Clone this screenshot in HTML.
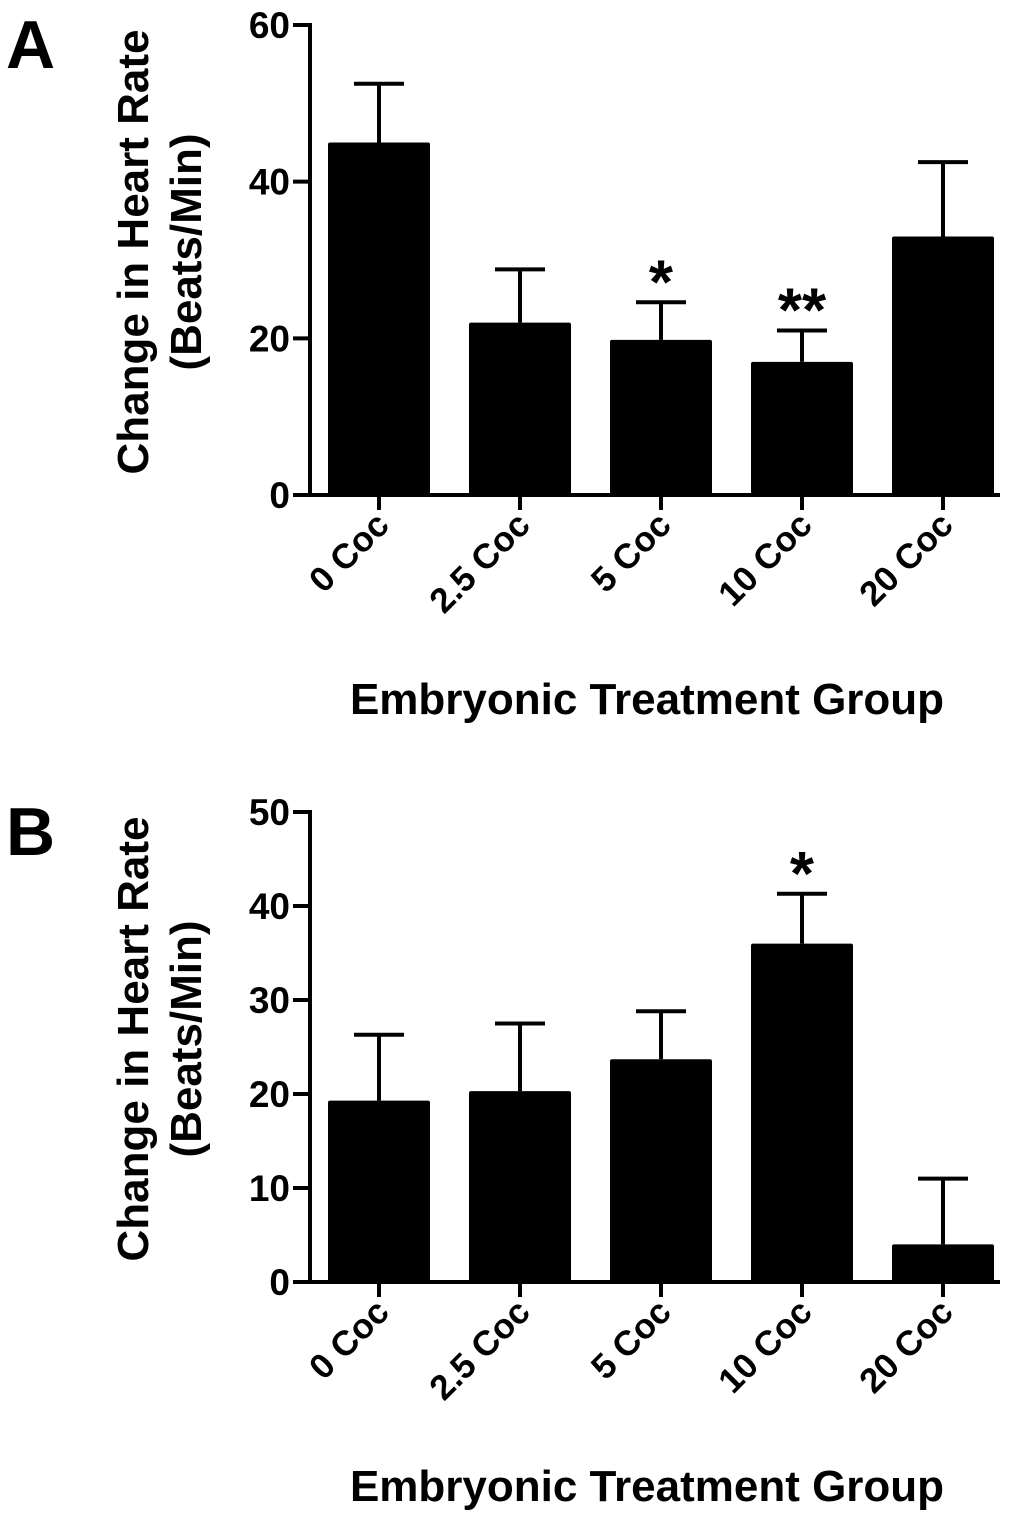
<!DOCTYPE html>
<html><head><meta charset="utf-8"><style>
body{margin:0;background:#fff}
svg{display:block;font-family:"Liberation Sans",Arial,sans-serif;font-weight:bold}
</style></head><body>
<svg id="s" width="1024" height="1518" viewBox="0 0 1024 1518"></svg>
<script>
const categories=["0 Coc","2.5 Coc","5 Coc","10 Coc","20 Coc"];
const meansA=[45,22,19.8,17,33];
const errA=[7.5,6.8,4.8,4,9.5];
const sigA=["","","*","**",""];
const ticksA=[0,20,40,60];
const meansB=[19.3,20.3,23.7,36,4];
const errB=[7,7.2,5.1,5.3,7];
const sigB=["","","","*",""];
const ticksB=[0,10,20,30,40,50];
const NS="http://www.w3.org/2000/svg";
const svg=document.getElementById('s');
function el(tag,attrs,parent,text){const e=document.createElementNS(NS,tag);for(const k in attrs)e.setAttribute(k,attrs[k]);if(text!==undefined)e.textContent=text;(parent||svg).appendChild(e);return e;}
function panel(letter,y0,yTop,maxV,means,errs,sig,ticks,name){
  const g=el('g',{});
  
  
  const yS=v=>y0-(y0-yTop)*v/maxV;
  const xC=i=>379+141*i;
  const L=el('text',{x:6,y:yTop+43,'font-size':68,fill:'#000'},g,letter);
  
  
  means.forEach((m,i)=>{
    const eb=el('line',{x1:xC(i),x2:xC(i),y1:yS(m),y2:yS(m+errs[i]),stroke:'#000','stroke-width':4},g);
    
    
    const cap=el('line',{x1:xC(i)-25,x2:xC(i)+25,y1:yS(m+errs[i]),y2:yS(m+errs[i]),stroke:'#000','stroke-width':4},g);
    
    
    const b=el('rect',{x:xC(i)-51,y:yS(m),width:102,height:y0-yS(m),fill:'#000',rx:2},g);
    
    
    if(sig[i]){
      const s=el('text',{x:xC(i),y:yS(m+errs[i])+1,'font-size':62,'text-anchor':'middle',fill:'#000'},g,sig[i]);
      
      
    }
    const t=el('line',{x1:xC(i),x2:xC(i),y1:y0,y2:y0+15,stroke:'#000','stroke-width':4},g);
    
    
    const lx=xC(i)+12,ly=y0+32;
    const tl=el('text',{x:lx,y:ly,'font-size':35,'text-anchor':'end',transform:`rotate(-45 ${lx} ${ly})`,fill:'#000'},g,categories[i]);
    
    
  });
  const ax=el('line',{x1:310,x2:310,y1:yTop-2,y2:y0+2,stroke:'#000','stroke-width':4},g);
  
  
  const xa=el('line',{x1:293,x2:1000,y1:y0,y2:y0,stroke:'#000','stroke-width':4},g);
  
  
  ticks.forEach(v=>{
    const t=el('line',{x1:293,x2:312,y1:yS(v),y2:yS(v),stroke:'#000','stroke-width':4},g);
    
    
    const tl=el('text',{x:290,y:yS(v)+13,'font-size':37,'text-anchor':'end',fill:'#000'},g,String(v));
    
    
  });
  const cy=(y0+yTop)/2-8;
  const t1=el('text',{x:148,y:cy,'font-size':44,'text-anchor':'middle',transform:`rotate(-90 148 ${cy})`,fill:'#000'},g,'Change in Heart Rate');
  
  
  const t2=el('text',{x:201,y:cy,'font-size':44,'text-anchor':'middle',transform:`rotate(-90 201 ${cy})`,fill:'#000'},g,'(Beats/Min)');
  
  
  const xt=el('text',{x:647,y:y0+219,'font-size':44,'text-anchor':'middle',fill:'#000'},g,'Embryonic Treatment Group');
  
  
}
panel('A',495,25,60,meansA,errA,sigA,ticksA,'panel-a');
panel('B',1282,812,50,meansB,errB,sigB,ticksB,'panel-b');
</script>
</body></html>
